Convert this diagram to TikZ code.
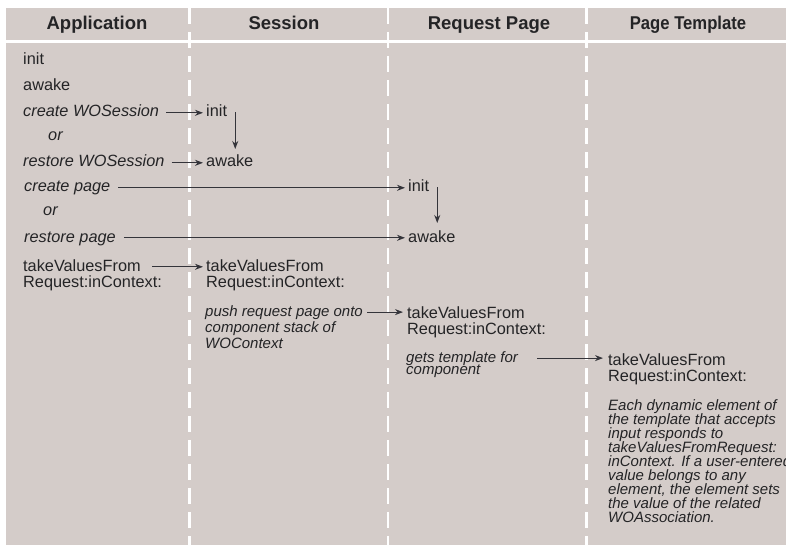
\documentclass[tikz,border=0pt]{standalone}
\usepackage{fontspec}
\setmainfont{Liberation Sans}
\usepackage{graphicx}
\usetikzlibrary{arrows.meta,calc}

\definecolor{panel}{RGB}{212,204,201}
\definecolor{ink}{RGB}{36,36,38}
\definecolor{wire}{RGB}{52,52,58}

% left-aligned block of lines, spaced exactly by \baselineskip,
% whose baseline is that of its first line
\newcommand{\laneblock}[1]{\vtop{\lineskiplimit=-50pt\lineskip=0pt
  \def\\{\cr}\halign{##\hfil\cr#1\crcr}}}

\begin{document}
\begin{tikzpicture}[x=1pt,y=-1pt,
  head/.style={anchor=base,inner sep=0pt,text=ink,font=\fontsize{18.5}{20}\selectfont\bfseries},
  msg/.style={anchor=base west,inner sep=0pt,text=ink,font=\fontsize{16.3}{16}\selectfont},
  act/.style={anchor=base west,inner sep=0pt,text=ink,font=\fontsize{16.3}{16}\selectfont\itshape},
  note/.style={anchor=base west,inner sep=0pt,text=ink,font=\fontsize{15}{16}\selectfont\itshape},
  flow/.style={draw=wire,line width=1.15pt,-{Stealth[length=8pt,width=6pt]}},
  lane/.style={draw=white,line width=2.8pt,dash pattern=on 16pt off 8pt}
]
\useasboundingbox (0,0) rectangle (786,545);

% panel, header rule and lane separators
\fill[panel] (6,8) rectangle (786,545);
\draw[white,line width=3pt] (6,41.5) -- (786,41.5);
\draw[lane] (189.5,8) -- (189.5,545);
\draw[lane] (388,8) -- (388,545);
\draw[lane] (586.7,8) -- (586.7,545);

% lane headings
\node[head] (hApp) at (97,29.5) {Application};
\node[head] (hSes) at (284,29.5) {Session};
\node[head] (hReq) at (489,29.5) {Request Page};
\node[head] (hTpl) at (688,29.5) {\scalebox{0.9}[1]{Page Template}};

% Application
\node[msg] (aInit)  at (23,65)  {init};
\node[msg] (aAwake) at (23,91)  {awake};
\node[act] (aCreS)  at (23,117) {create WOSession};
\node[act] (aOr1)   at (48,141) {or};
\node[act] (aResS)  at (23,167) {restore WOSession};
\node[act] (aCreP)  at (24,192) {create page};
\node[act] (aOr2)   at (43,216) {or};
\node[act] (aResP)  at (24,242) {restore page};
\node[msg] (aTake)  at (23,271) {\laneblock{takeValuesFrom\\Request:inContext:}};

% Session
\node[msg] (sInit)  at (206,117) {init};
\node[msg] (sAwake) at (206,167) {awake};
\node[msg] (sTake)  at (206,271) {\laneblock{takeValuesFrom\\Request:inContext:}};
\node[note] (sPush) at (205,316) {\laneblock{push request page onto\\component stack of\\WOContext}};

% Request Page
\node[msg] (rInit)  at (408,192) {init};
\node[msg] (rAwake) at (408,242) {awake};
\node[msg] (rTake)  at (407,318) {\laneblock{takeValuesFrom\\Request:inContext:}};
\node[note,font=\fontsize{15}{12.8}\selectfont\itshape] (rGets) at (406,362) {\laneblock{gets template for\\component}};

% Page Template
\node[msg] (tTake) at (608,365) {\laneblock{takeValuesFrom\\Request:inContext:}};
\node[note,font=\fontsize{15}{14}\selectfont\itshape] (tEach) at (608,410) {\laneblock{Each dynamic element of\\the template that accepts\\input responds to\\takeValuesFromRequest:\\inContext. If a user-entered\\value belongs to any\\element, the element sets\\the value of the related\\WOAssociation.}};

% message arrows, drawn at mid x-height of the sending text
\coordinate (c1) at ([shift={(7pt,4.2pt)}]aCreS.base east);
\draw[flow] (c1) -- ($(sInit.west |- c1)+(-3pt,0)$);
\coordinate (c2) at ([shift={(7pt,4.2pt)}]aResS.base east);
\draw[flow] (c2) -- ($(sAwake.west |- c2)+(-3pt,0)$);
\coordinate (c3) at ([shift={(8pt,4.2pt)}]aCreP.base east);
\draw[flow] (c3) -- ($(rInit.west |- c3)+(-3pt,0)$);
\coordinate (c4) at ([shift={(8pt,4.2pt)}]aResP.base east);
\draw[flow] (c4) -- ($(rAwake.west |- c4)+(-3pt,0)$);
\coordinate (c5) at ($(aTake.base west)+(129pt,4.2pt)$);
\draw[flow] (c5) -- ($(sTake.west |- c5)+(-3pt,0)$);
\coordinate (c6) at ($(sPush.base west)+(162pt,3.9pt)$);
\draw[flow] (c6) -- ($(rTake.west |- c6)+(-4pt,0)$);
\coordinate (c7) at ($(rGets.base west)+(131pt,3.9pt)$);
\draw[flow] (c7) -- ($(tTake.west |- c7)+(-5pt,0)$);

% internal steps
\coordinate (v1) at ([shift={(8pt,4.5pt)}]sInit.base east);
\draw[flow] (v1) -- ($(v1 |- sAwake.north)+(0,6pt)$);
\coordinate (v2) at ([shift={(8pt,4.5pt)}]rInit.base east);
\draw[flow] (v2) -- ($(v2 |- rAwake.north)+(0,7pt)$);
\end{tikzpicture}
\end{document}
